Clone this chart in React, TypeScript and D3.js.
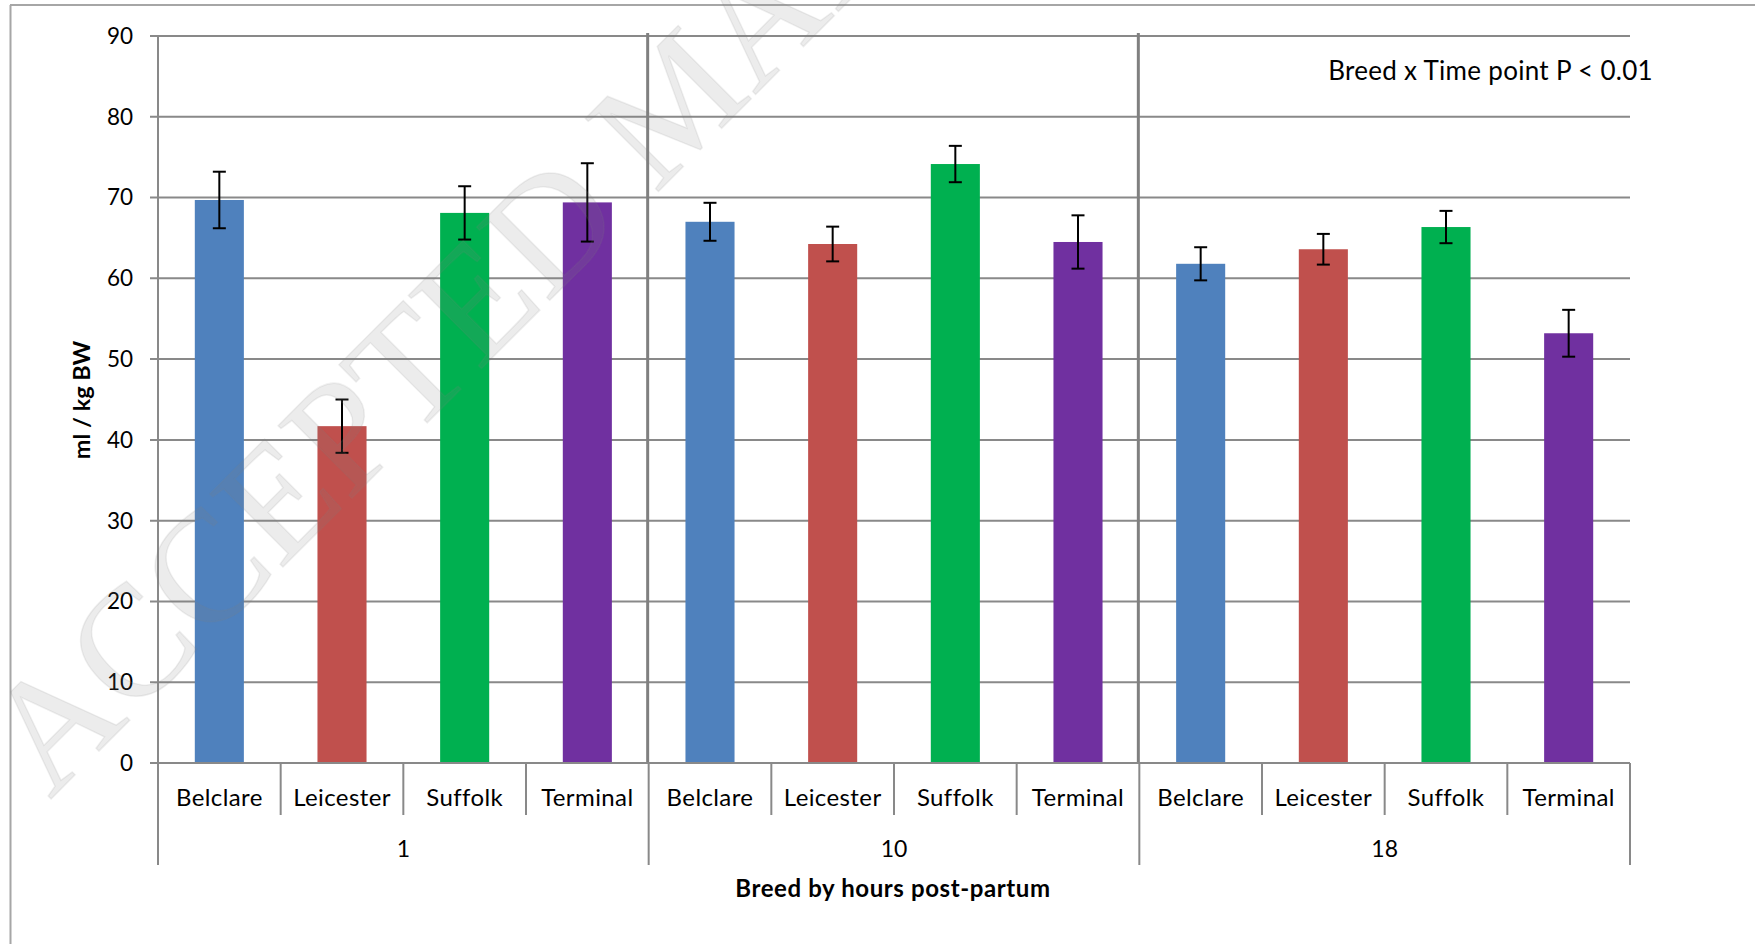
import React from "react";
import * as d3 from "d3";

const hourGroups = ["1", "10", "18"];
const breeds = ["Belclare", "Leicester", "Suffolk", "Terminal"];
const breedColors = ["#4F81BD", "#C0504D", "#00B050", "#7030A0"];
const hour1Means = [69.7, 41.7, 68.1, 69.4];
const hour1Errors = [3.5, 3.3, 3.3, 4.85];
const hour10Means = [67.0, 64.25, 74.15, 64.5];
const hour10Errors = [2.35, 2.15, 2.25, 3.3];
const hour18Means = [61.8, 63.6, 66.35, 53.2];
const hour18Errors = [2.05, 1.9, 2.0, 2.9];
const yTicks = [0, 10, 20, 30, 40, 50, 60, 70, 80, 90];
const yTitle = "ml / kg BW";
const xTitle = "Breed by hours post-partum";
const annotation = "Breed x Time point P < 0.01";
const watermark = "ACCEPTED MANUSCRIPT";

const W = 1755;
const H = 944;
const L = 158;
const R = 1630;
const T = 36;
const B = 763;
const FONT = "Lato, 'Open Sans', sans-serif";
const GRID = "#898989";

export default function App() {
  const meansList = [hour1Means, hour10Means, hour18Means];
  const errList = [hour1Errors, hour10Errors, hour18Errors];
  const rows = hourGroups.flatMap((g, gi) =>
    breeds.map((b, bi) => ({
      key: g + "|" + b,
      group: g,
      breed: b,
      bi,
      mean: meansList[gi][bi],
      err: errList[gi][bi],
    }))
  );

  const x = d3
    .scaleBand<string>()
    .domain(rows.map((r) => r.key))
    .range([L, R])
    .paddingInner(0.6)
    .paddingOuter(0.3);
  const step = x.step();
  const cellLeft = (k: string) => (x(k) as number) - step * 0.3;
  const xg = d3.scaleBand<string>().domain(hourGroups).range([L, R]).padding(0);
  const y = d3.scaleLinear().domain([0, 90]).range([B, T]);

  const capHalf = 6.5;

  return (
    <svg
      width={W}
      height={H}
      style={{ position: "absolute", left: 0, top: 0, background: "#fff" }}
    >
      <rect x={0} y={0} width={W} height={H} fill="#fff" />
      {/* outer frame */}
      <line x1={10} y1={5} x2={W} y2={5} stroke="#a6a6a6" strokeWidth={2} />
      <line x1={10.5} y1={5} x2={10.5} y2={H} stroke="#a6a6a6" strokeWidth={2} />

      {/* gridlines */}
      {yTicks.map((t) => (
        <line key={"g" + t} x1={L - 8} x2={R} y1={y(t)} y2={y(t)} stroke={GRID} strokeWidth={2} />
      ))}
      {/* y axis */}
      <line x1={L} x2={L} y1={T} y2={B} stroke={GRID} strokeWidth={2} />
      {yTicks.map((t) => (
        <text
          key={"yl" + t}
          x={133}
          y={y(t)}
          dy="0.35em"
          textAnchor="end"
          fontFamily={FONT}
          fontSize={22.5}
          fill="#000"
        >
          {t}
        </text>
      ))}

      {/* group separators in plot */}
      {hourGroups.slice(1).map((g) => (
        <line
          key={"sep" + g}
          x1={(xg(g) as number) - 1}
          x2={(xg(g) as number) - 1}
          y1={T - 3}
          y2={B}
          stroke="#808080"
          strokeWidth={3}
        />
      ))}

      {/* bars */}
      {rows.map((r) => (
        <rect
          key={"b" + r.key}
          x={x(r.key)}
          y={y(r.mean)}
          width={x.bandwidth()}
          height={B - y(r.mean)}
          fill={breedColors[r.bi]}
        />
      ))}
      {/* error bars */}
      {rows.map((r) => {
        const cx = (x(r.key) as number) + x.bandwidth() / 2;
        const y1 = y(r.mean + r.err);
        const y2 = y(r.mean - r.err);
        return (
          <g key={"e" + r.key} stroke="#000" strokeWidth={2}>
            <line x1={cx} x2={cx} y1={y1} y2={y2} />
            <line x1={cx - capHalf} x2={cx + capHalf} y1={y1} y2={y1} />
            <line x1={cx - capHalf} x2={cx + capHalf} y1={y2} y2={y2} />
          </g>
        );
      })}

      {/* x axis */}
      <line x1={L} x2={R} y1={B} y2={B} stroke={GRID} strokeWidth={2} />
      {rows.map((r, i) =>
        i === 0 ? null : (
          <line
            key={"cd" + r.key}
            x1={cellLeft(r.key)}
            x2={cellLeft(r.key)}
            y1={B}
            y2={r.bi === 0 ? 865 : 815}
            stroke={GRID}
            strokeWidth={2}
          />
        )
      )}
      <line x1={L} x2={L} y1={B} y2={865} stroke={GRID} strokeWidth={2} />
      <line x1={R} x2={R} y1={B} y2={865} stroke={GRID} strokeWidth={2} />
      {rows.map((r) => (
        <text
          key={"cl" + r.key}
          x={(x(r.key) as number) + x.bandwidth() / 2}
          y={806}
          textAnchor="middle"
          fontFamily={FONT}
          fontSize={24}
          letterSpacing={0.4}
          fill="#000"
        >
          {r.breed}
        </text>
      ))}
      {hourGroups.map((g) => (
        <text
          key={"gl" + g}
          x={(xg(g) as number) + xg.bandwidth() / 2}
          y={857}
          textAnchor="middle"
          fontFamily={FONT}
          fontSize={23}
          fill="#000"
        >
          {g}
        </text>
      ))}

      {/* titles */}
      <text
        x={893}
        y={897}
        textAnchor="middle"
        fontFamily={FONT}
        fontWeight="bold"
        fontSize={24}
        letterSpacing={0.6}
        fill="#000"
      >
        {xTitle}
      </text>
      <text
        transform="translate(90,400) rotate(-90)"
        textAnchor="middle"
        fontFamily={FONT}
        fontWeight="bold"
        fontSize={23.5}
        fill="#000"
      >
        {yTitle}
      </text>
      <text
        x={1653}
        y={80}
        textAnchor="end"
        fontFamily={FONT}
        fontSize={26}
        letterSpacing={0.3}
        fill="#000"
      >
        {annotation}
      </text>

      {/* watermark */}
      <text
        transform="translate(50,800) rotate(-45)"
        fontFamily="'Liberation Serif', 'DejaVu Serif', serif"
        fontSize={158}
        fill="#808080"
        fillOpacity={0.15}
        stroke="#808080"
        strokeOpacity={0.12}
        strokeWidth={1.5}
        style={{ pointerEvents: "none" }}
      >
        {watermark}
      </text>
    </svg>
  );
}
